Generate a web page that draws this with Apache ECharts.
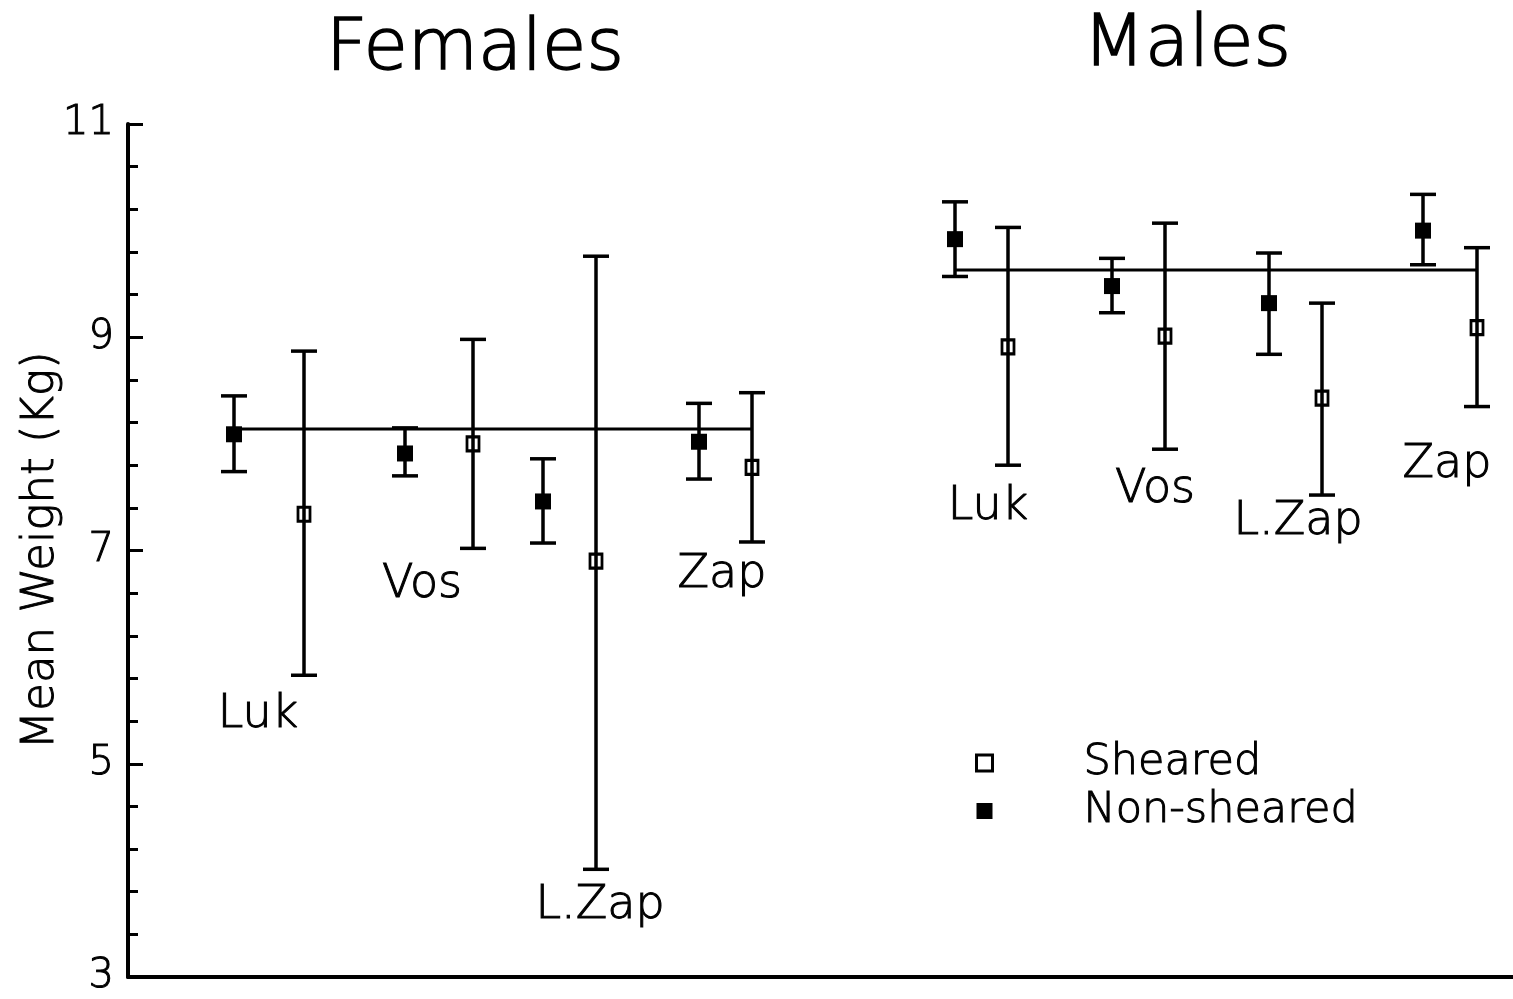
<!DOCTYPE html>
<html>
<head>
<meta charset="utf-8">
<script src="https://cdn.jsdelivr.net/npm/echarts@6/dist/echarts.min.js"></script>
<style>
html, body { margin: 0; padding: 0; background: #fff; }
#P1 { width: 1513px; height: 999px; }
</style>
</head>
<body>
<div id="P1"></div>
<script>
// x positions are plot units along the (hidden) horizontal axis
var groups = ['Luk', 'Vos', 'L.Zap', 'Zap', 'Luk', 'Vos', 'L.Zap', 'Zap'];
var nonX = [10.6, 27.7, 41.5, 57.1, 82.7, 98.4, 114.1, 129.5];
var nonMean = [8.09, 7.91, 7.46, 8.02, 9.92, 9.48, 9.32, 10.00];
var nonLow = [7.74, 7.70, 7.07, 7.67, 9.57, 9.23, 8.84, 9.68];
var nonHigh = [8.45, 8.15, 7.86, 8.38, 10.27, 9.74, 9.79, 10.34];

var shX = [17.6, 34.5, 46.8, 62.4, 88.0, 103.7, 119.4, 134.9];
var shMean = [7.34, 8.00, 6.90, 7.78, 8.91, 9.01, 8.43, 9.09];
var shLow = [5.83, 7.02, 4.01, 7.08, 7.80, 7.95, 7.52, 8.35];
var shHigh = [8.87, 8.98, 9.76, 8.48, 10.03, 10.07, 9.32, 9.84];

var labelX = [13.0, 29.4, 47.2, 59.4, 86.0, 102.7, 117.0, 131.9];
var labelY = [5.46, 6.68, 3.67, 6.77, 7.41, 7.57, 7.27, 7.80];

var femaleLine = [[10.6, 8.14], [62.4, 8.14]];
var maleLine = [[82.7, 9.63], [134.9, 9.63]];

function echartsP1() {
	var myChart = echarts.init(document.getElementById('P1'));
	var font = 'DejaVu Sans';
	var weight = 200;
	// extra-light face plus a thin outline, closer to the plotter pen
	var pen = { textBorderColor: '#000', textBorderWidth: 1 };

	var bars = [];
	for (var i = 0; i < nonX.length; i++) {
		bars.push([nonX[i], nonLow[i], nonHigh[i]]);
		bars.push([shX[i], shLow[i], shHigh[i]]);
	}
	var nonData = nonX.map(function (x, i) { return [x, nonMean[i]]; });
	var shData = shX.map(function (x, i) { return [x, shMean[i]]; });
	var labelData = labelX.map(function (x, i) { return { value: [x, labelY[i]], name: groups[i] }; });

	function renderBar(params, api) {
		var lo = api.coord([api.value(0), api.value(1)]);
		var hi = api.coord([api.value(0), api.value(2)]);
		var w = 13;
		var st = { stroke: '#000', lineWidth: 3.5, fill: 'none' };
		return {
			type: 'group',
			children: [
				{ type: 'line', shape: { x1: lo[0], y1: lo[1], x2: hi[0], y2: hi[1] }, style: st },
				{ type: 'line', shape: { x1: hi[0] - w, y1: hi[1], x2: hi[0] + w, y2: hi[1] }, style: st },
				{ type: 'line', shape: { x1: lo[0] - w, y1: lo[1], x2: lo[0] + w, y2: lo[1] }, style: st }
			]
		};
	}

	var option = {
		backgroundColor: '#fff',
		animation: false,
		textStyle: { fontFamily: font, fontWeight: weight },
		grid: { left: 128, right: 0, top: 124, bottom: 22, containLabel: false, outerBoundsMode: 'none' },
		graphic: [
			{ type: 'text', x: 475, y: 50, style: { text: 'Females', font: '200 72px "DejaVu Sans"', fill: '#000', stroke: '#000', lineWidth: 1.5, textAlign: 'center', textVerticalAlign: 'middle' } },
			{ type: 'text', x: 1187, y: 46, style: { text: 'Males', font: '200 72px "DejaVu Sans"', fill: '#000', stroke: '#000', lineWidth: 1.5, textAlign: 'center', textVerticalAlign: 'middle' } }
		],
		legend: {
			orient: 'vertical',
			left: 970,
			top: 735,
			itemWidth: 16,
			itemHeight: 16,
			itemGap: 2,
			textStyle: Object.assign({ fontFamily: font, fontWeight: weight, fontSize: 43, color: '#000', lineHeight: 46, padding: [0, 0, 0, 86] }, pen),
			data: [
				{ name: 'Sheared', icon: 'rect', itemStyle: { color: 'rgba(0,0,0,0)', borderColor: '#000', borderWidth: 3 } },
				{ name: 'Non-sheared', icon: 'rect', itemStyle: { color: '#000', borderWidth: 0 } }
			]
		},
		xAxis: {
			type: 'value',
			min: 0,
			max: 138.5,
			axisLine: { show: true, lineStyle: { color: '#000', width: 4 } },
			axisTick: { show: false },
			axisLabel: { show: false },
			splitLine: { show: false }
		},
		yAxis: {
			type: 'value',
			min: 3,
			max: 11,
			interval: 2,
			name: 'Mean Weight (Kg)',
			nameLocation: 'middle',
			nameGap: 64,
			nameMoveOverlap: false,
			nameTextStyle: Object.assign({ fontFamily: font, fontWeight: weight, fontSize: 45, color: '#000' }, pen),
			axisLine: { show: true, lineStyle: { color: '#000', width: 4 } },
			axisTick: { show: true, inside: true, length: 15, lineStyle: { color: '#000', width: 3 } },
			minorTick: { show: true, splitNumber: 5, length: 10, lineStyle: { color: '#000', width: 3 } },
			axisLabel: Object.assign({ fontFamily: font, fontWeight: weight, fontSize: 40, color: '#000', margin: 14 }, pen),
			splitLine: { show: false }
		},
		series: [
			{
				type: 'line', data: femaleLine, symbol: 'none', silent: true,
				lineStyle: { color: '#000', width: 3 }
			},
			{
				type: 'line', data: maleLine, symbol: 'none', silent: true,
				lineStyle: { color: '#000', width: 3 }
			},
			{
				type: 'custom', data: bars, renderItem: renderBar, silent: true, z: 3
			},
			{
				name: 'Sheared', type: 'scatter', data: shData, symbol: 'rect', symbolSize: [12, 14], z: 4,
				itemStyle: { color: 'rgba(0,0,0,0)', borderColor: '#000', borderWidth: 3, opacity: 1 }
			},
			{
				name: 'Non-sheared', type: 'scatter', data: nonData, symbol: 'rect', symbolSize: 16, z: 4,
				itemStyle: { color: '#000', opacity: 1 }
			},
			{
				type: 'scatter', data: labelData, symbolSize: 0, silent: true,
				itemStyle: { opacity: 1 },
				label: Object.assign({
					show: true, position: 'inside', formatter: '{b}',
					fontFamily: font, fontWeight: weight, fontSize: 46, color: '#000', opacity: 1
				}, pen)
			}
		]
	};
	myChart.setOption(option);
}
echartsP1();
</script>
</body>
</html>
